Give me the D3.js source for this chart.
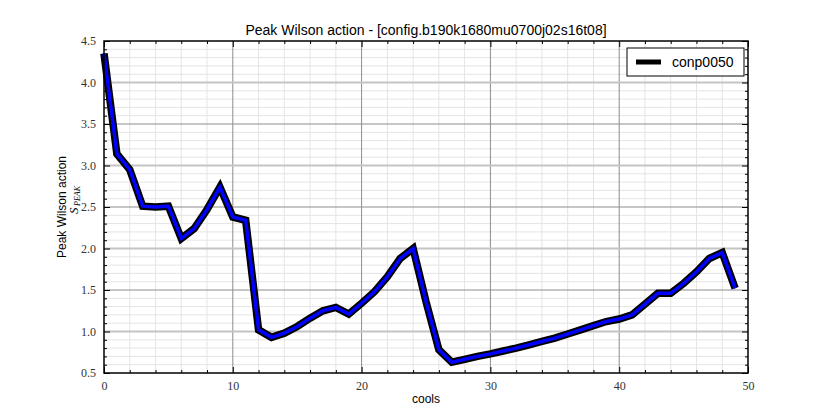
<!DOCTYPE html>
<html><head><meta charset="utf-8">
<script src="https://cdn.jsdelivr.net/npm/d3@7"></script>
<style>body{margin:0;background:#fff}</style>
</head><body>
<script>
const cools = d3.range(0, 50);
const conp0050 = [4.35,3.14,2.95,2.51,2.50,2.51,2.12,2.24,2.47,2.74,
  2.38,2.34,1.02,0.93,0.98,1.06,1.16,1.25,1.29,1.21,
  1.34,1.48,1.66,1.88,2.00,1.36,0.78,0.63,0.665,0.70,
  0.73,0.765,0.80,0.84,0.88,0.92,0.97,1.02,1.07,1.12,
  1.15,1.20,1.33,1.46,1.46,1.58,1.72,1.88,1.95,1.52];
const xTicks = [0,10,20,30,40,50];
const yTicks = [0.5,1.0,1.5,2.0,2.5,3.0,3.5,4.0,4.5];
const seriesName = "conp0050";
const title = "Peak Wilson action - [config.b190k1680mu0700j02s16t08]";

const W=830,H=415, L=104,R=748,T=41,B=373;
const svg=d3.select("body").append("svg").attr("width",W).attr("height",H);
const x=d3.scaleLinear().domain([0,50]).range([L,R]);
const y=d3.scaleLinear().domain([0.5,4.5]).range([B,T]);

const g=svg.append("g");
const xMinor=d3.range(0,51,2).filter(v=>v%10!==0);
const yMinor=d3.range(5,46).map(v=>v/10).filter(v=>Math.abs(v*2-Math.round(v*2))>1e-6);
g.selectAll(".xm").data(xMinor).join("line").attr("x1",d=>x(d)).attr("x2",d=>x(d)).attr("y1",T).attr("y2",B).attr("stroke","#e4e4e4").attr("stroke-width",1);
g.selectAll(".ym").data(yMinor).join("line").attr("x1",L).attr("x2",R).attr("y1",d=>y(d)).attr("y2",d=>y(d)).attr("stroke","#e4e4e4").attr("stroke-width",1);
g.selectAll(".xM").data(xTicks.slice(1,-1)).join("line").attr("x1",d=>x(d)).attr("x2",d=>x(d)).attr("y1",T).attr("y2",B).attr("stroke","#8c8c8c").attr("stroke-width",1);
g.selectAll(".yM").data(yTicks.slice(1,-1)).join("line").attr("x1",L).attr("x2",R).attr("y1",d=>y(d)).attr("y2",d=>y(d))
  .attr("stroke",d=>Number.isInteger(d)?"#c4c4c4":"#8c8c8c").attr("stroke-width",d=>Number.isInteger(d)?2:1);

const fmt=d3.format(".1f");
const serif="'Liberation Serif','DejaVu Serif',serif";
function styleAxis(sel){sel.attr("font-family",serif);sel.select(".domain").remove();sel.selectAll("text").attr("font-family",serif).attr("font-size","12px").attr("fill","#333");sel.selectAll("line").attr("stroke","#000");}
svg.append("g").attr("transform",`translate(0,${B})`).call(d3.axisBottom(x).tickValues(xTicks).tickSize(-6).tickPadding(8)).call(styleAxis);
svg.append("g").attr("transform",`translate(0,${B})`).call(d3.axisBottom(x).tickValues(xMinor).tickSize(-3).tickFormat("")).call(styleAxis);
svg.append("g").attr("transform",`translate(0,${T})`).call(d3.axisTop(x).tickValues(xTicks).tickSize(-6).tickFormat("")).call(styleAxis);
svg.append("g").attr("transform",`translate(0,${T})`).call(d3.axisTop(x).tickValues(xMinor).tickSize(-3).tickFormat("")).call(styleAxis);
svg.append("g").attr("transform",`translate(${L},0)`).call(d3.axisLeft(y).tickValues(yTicks).tickSize(-6).tickPadding(8).tickFormat(fmt)).call(styleAxis);
svg.append("g").attr("transform",`translate(${L},0)`).call(d3.axisLeft(y).tickValues(yMinor).tickSize(-3).tickFormat("")).call(styleAxis);
svg.append("g").attr("transform",`translate(${R},0)`).call(d3.axisRight(y).tickValues(yTicks).tickSize(-6).tickFormat("")).call(styleAxis);
svg.append("g").attr("transform",`translate(${R},0)`).call(d3.axisRight(y).tickValues(yMinor).tickSize(-3).tickFormat("")).call(styleAxis);

const line=d3.line().x((d,i)=>x(cools[i])).y(d=>y(d));
svg.append("path").datum(conp0050).attr("d",line).attr("fill","none").attr("stroke","#000").attr("stroke-width",7.5).attr("stroke-linejoin","miter");
svg.append("path").datum(conp0050).attr("d",line).attr("fill","none").attr("stroke","#0000ff").attr("stroke-width",3.5).attr("stroke-linejoin","miter");

svg.append("rect").attr("x",L).attr("y",T).attr("width",R-L).attr("height",B-T).attr("fill","none").attr("stroke","#000").attr("stroke-width",1.5);

const lg=svg.append("g");
lg.append("rect").attr("x",627).attr("y",48).attr("width",117).attr("height",28).attr("fill","#fff").attr("stroke","#000").attr("stroke-width",1);
lg.append("line").attr("x1",636).attr("x2",661).attr("y1",62).attr("y2",62).attr("stroke","#000").attr("stroke-width",5);
lg.append("text").attr("x",672).attr("y",67).text(seriesName).attr("font-family","'Liberation Sans',Arial,sans-serif").attr("font-size","14px");

svg.append("text").attr("x",426).attr("y",35).attr("text-anchor","middle").text(title).attr("font-family","'Liberation Sans',Arial,sans-serif").attr("font-size","14px");
svg.append("text").attr("x",426).attr("y",403).attr("text-anchor","middle").text("cools").attr("font-family","'Liberation Sans',Arial,sans-serif").attr("font-size","12px");
svg.append("text").attr("transform",`translate(66,${(T+B)/2}) rotate(-90)`).attr("text-anchor","middle").attr("font-family","'Liberation Sans',Arial,sans-serif").attr("font-size","12px").text("Peak Wilson action");
svg.append("text").attr("transform",`translate(78,214) rotate(-90)`).attr("text-anchor","start").attr("font-family",serif).attr("font-style","italic").attr("font-size","13px").text("S");
svg.append("text").attr("transform",`translate(80,206) rotate(-90)`).attr("text-anchor","start").attr("font-family",serif).attr("font-style","italic").attr("font-size","8px").text("PEAK");
</script>
</body></html>
